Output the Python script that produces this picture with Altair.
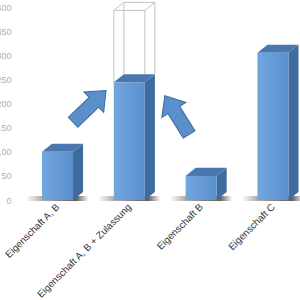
import altair as alt
import pandas as pd

categories = ["Eigenschaft A, B", "Eigenschaft A, B + Zulassung", "Eigenschaft B", "Eigenschaft C"]
values = [100, 244, 50, 305]
target_value = 393          # outline box above second bar
y_ticks = [0, 50, 100, 150, 200, 250, 300, 350, 400]

# geometry of the pseudo-3D boxes (data units)
HALF = 0.216   # half width of front face
DX = 0.14      # depth offset in x units
DV = 16.6      # depth offset in y units

pos = list(range(len(categories)))

front = pd.DataFrame({
    "cat": categories,
    "xl": [p - HALF for p in pos],
    "xr": [p + HALF for p in pos],
    "v": values,
})

shadow = pd.DataFrame({
    "cat": categories,
    "xl": [p - HALF - 0.22 for p in pos],
    "xr": [p + HALF + DX + 0.08 for p in pos],
})

side_rows = []
top_rows = []
for p, c, v in zip(pos, categories, values):
    xr = p + HALF
    xl = p - HALF
    side_rows.append({"cat": c, "x": xr, "y": 0, "y2": v})
    side_rows.append({"cat": c, "x": xr + DX, "y": DV, "y2": v + DV})
    top_rows.append({"cat": c, "y": v, "x": xl, "x2": xr})
    top_rows.append({"cat": c, "y": v + DV, "x": xl + DX, "x2": xr + DX})
side = pd.DataFrame(side_rows)
top = pd.DataFrame(top_rows)

# wireframe above bar 2
p2 = 1
v2 = values[1]
xl2, xr2 = p2 - HALF, p2 + HALF
segs = [
    (xl2, v2, xl2, target_value),
    (xr2, v2, xr2, target_value),
    (xl2, target_value, xr2, target_value),
    (xl2 + DX, v2 + DV, xl2 + DX, target_value + DV),
    (xr2 + DX, v2 + DV, xr2 + DX, target_value + DV),
    (xl2 + DX, target_value + DV, xr2 + DX, target_value + DV),
    (xl2, target_value, xl2 + DX, target_value + DV),
    (xr2, target_value, xr2 + DX, target_value + DV),
]
wire = pd.DataFrame(segs, columns=["x", "y", "x2", "y2"])

# arrows (annotation)
arrows = pd.DataFrame({"x": [0.446, 1.664], "y": [194, 176], "ang": [316, 238]})

XDOM = [-0.606, 3.377]
xs = alt.Scale(domain=XDOM, nice=False, zero=False)
ys = alt.Scale(domain=[0, 400], nice=False)

label_expr = "[" + ",".join("'" + c + "'" for c in categories) + "][datum.value]"

x_axis = alt.Axis(values=pos, labelExpr=label_expr, labelAngle=-45, labelAlign="right",
                  labelBaseline="middle", labelPadding=5, ticks=False, domain=False, grid=False,
                  title=None, labelFont="Liberation Sans", labelFontSize=9.8, labelColor="#333333",
                  labelOverlap=False, labelBound=False, labelFlush=False)
y_axis = alt.Axis(values=y_ticks, ticks=False, domain=False, grid=False, title=None,
                  labelFont="Liberation Sans", labelFontSize=9, labelColor="#b0b0b0", labelPadding=3,
                  labelOverlap=False, labelBound=False, labelFlush=False)

grad = alt.LinearGradient(gradient="linear", x1=0, x2=1, y1=0, y2=0,
                          stops=[alt.GradientStop(color="#72a6de", offset=0),
                                 alt.GradientStop(color="#5a90cf", offset=1)])

shadow_grad = alt.LinearGradient(gradient="linear", x1=0, x2=1, y1=0, y2=0,
                                 stops=[alt.GradientStop(color="#ffffff", offset=0),
                                        alt.GradientStop(color="#9a8f8a", offset=0.25),
                                        alt.GradientStop(color="#2a2a2a", offset=0.8),
                                        alt.GradientStop(color="#ffffff", offset=1)])

X = lambda f: alt.X(f, scale=xs, axis=x_axis)
Y = lambda f, **kw: alt.Y(f, scale=ys, axis=y_axis, **kw)

shadow_layer = alt.Chart(shadow).mark_rect(fill=shadow_grad, opacity=0.75, cornerRadius=2).encode(
    x=X("xl:Q"), x2="xr:Q",
    y=alt.value(189), y2=alt.value(194),
)

front_layer = alt.Chart(front).mark_rect(fill=grad, stroke=None).encode(
    x=X("xl:Q"),
    x2="xr:Q",
    y=Y("v:Q"),
    y2=alt.datum(0),
)

side_layer = alt.Chart(side).mark_area(color="#3f6c9f", orient="vertical").encode(
    x=X("x:Q"),
    y=Y("y:Q", stack=None),
    y2="y2:Q",
    detail="cat:N",
)

top_layer = alt.Chart(top).mark_area(color="#4a78ae", orient="horizontal").encode(
    y=Y("y:Q"),
    x=alt.X("x:Q", scale=xs, axis=x_axis, stack=None),
    x2="x2:Q",
    detail="cat:N",
)

wire_layer = alt.Chart(wire).mark_rule(color="#c3c3c3", strokeWidth=1).encode(
    x=X("x:Q"), x2="x2:Q",
    y=Y("y:Q"), y2="y2:Q",
)

arrow_path = "M -1 -0.3 L 0.26 -0.3 L 0.26 -0.62 L 1 0 L 0.26 0.62 L 0.26 0.3 L -1 0.3 Z"
arrow_layer = alt.Chart(arrows).mark_point(shape=arrow_path, filled=True, fill="#5b8fcc",
                                          stroke="#3d6b9f", strokeWidth=1, size=2100, opacity=1).encode(
    x=X("x:Q"),
    y=Y("y:Q"),
    angle=alt.Angle("ang:Q", scale=None),
)

chart = alt.layer(shadow_layer, wire_layer, side_layer, top_layer, front_layer, arrow_layer).properties(
    width=286, height=193,
    autosize=alt.AutoSizeParams(type="none"),
    padding={"left": 14, "top": 7, "right": 0, "bottom": 100},
    background="white",
).configure_view(stroke=None)

chart.save("out.html", embed_options={"renderer": "svg", "actions": False})
